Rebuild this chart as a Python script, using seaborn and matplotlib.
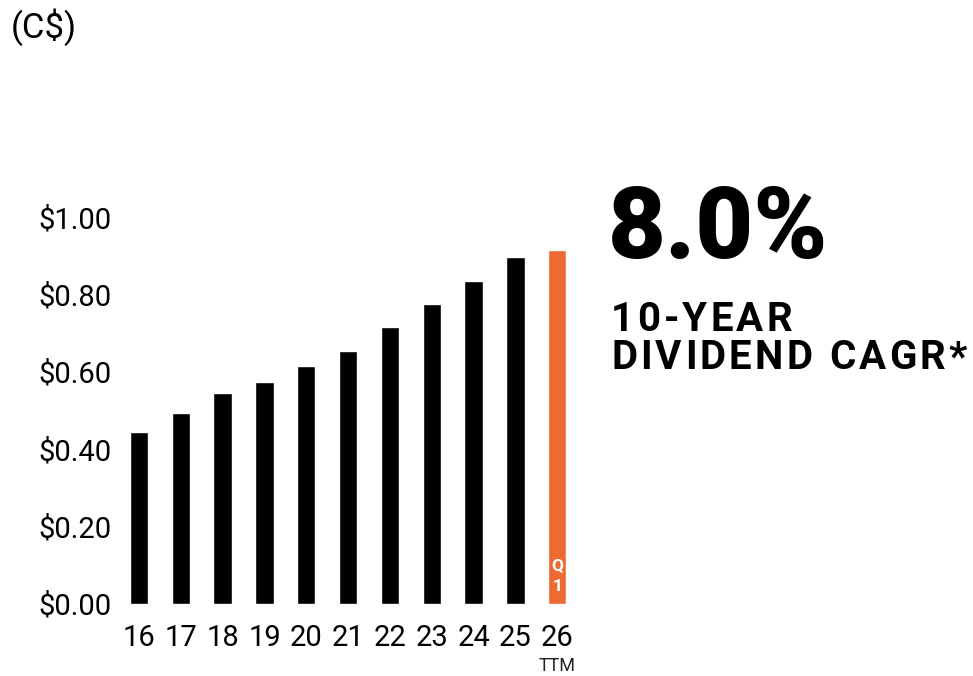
import numpy as np
import pandas as pd
import matplotlib.pyplot as plt
import seaborn as sns

# Dividend per share by fiscal year (C$)
years = ["16", "17", "18", "19", "20", "21", "22", "23", "24", "25", "26"]
dividends = [0.444, 0.494, 0.545, 0.574, 0.615, 0.654, 0.716, 0.775, 0.835, 0.897, 0.915]
bar_colors = ["#000000"] * 10 + ["#EE6A33"]
y_ticks = [0.0, 0.2, 0.4, 0.6, 0.8, 1.0]
y_tick_labels = ["$0.00", "$0.20", "$0.40", "$0.60", "$0.80", "$1.00"]


def tracked_text(fig, x, y, s, spacing, **kw):
    """Write s at figure coords with extra space (px) between letters."""
    renderer = fig.canvas.get_renderer()
    x_px = x * fig.bbox.width
    for ch in s:
        t = fig.text(x_px / fig.bbox.width, y, ch, **kw)
        w = t.get_window_extent(renderer).width
        if ch == " ":
            w = kw.get("fontsize", 12) * 0.25 * fig.dpi / 72
        x_px += w + spacing


sns.set_style("white")
plt.rcParams['font.family'] = ['Roboto', 'DejaVu Sans']
plt.rcParams['text.color'] = 'black'
plt.rcParams['xtick.color'] = 'black'
plt.rcParams['ytick.color'] = 'black'

df = pd.DataFrame({"year": years, "dividend": dividends})

fig = plt.figure(figsize=(9.73, 6.76), dpi=100)
ax = fig.add_axes([0.1213, 0.1021, 0.4729, 0.6051])

sns.barplot(data=df, x="year", y="dividend", hue="year",
            palette=bar_colors, width=0.44, saturation=1,
            legend=False, ax=ax)

ax.set_xlim(-0.5, 10.5)
ax.set_ylim(-0.008, 1.05)
ax.set_yticks(y_ticks)
ax.set_yticklabels(y_tick_labels, fontsize=21)
ax.tick_params(axis='x', labelsize=21, pad=12, length=0)
ax.tick_params(axis='y', pad=5, length=0)
ax.set_xlabel("")
ax.set_ylabel("")
sns.despine(ax=ax, left=True, bottom=True)

# TTM under the last tick, Q1 inside the orange bar
ax.text(10, -0.16, "TTM", ha="center", va="center", fontsize=13,
        color="#222222", clip_on=False)
ax.text(10, 0.072, "Q\n1", ha="center", va="center", fontsize=12.5,
        fontweight="bold", color="white", linespacing=1.55)

fig.text(0.011, 0.96, "(C$)", fontsize=25, ha="left", va="center")
fig.text(0.625, 0.659, "8.0%", fontsize=72, fontweight="black",
         ha="left", va="center")
tracked_text(fig, 0.628, 0.527, "10-YEAR", 3.2, fontsize=29,
             fontweight="bold", ha="left", va="center")
tracked_text(fig, 0.628, 0.470, "DIVIDEND CAGR*", 3.2, fontsize=29,
             fontweight="bold", ha="left", va="center")

fig.savefig("out.png", dpi=100)
